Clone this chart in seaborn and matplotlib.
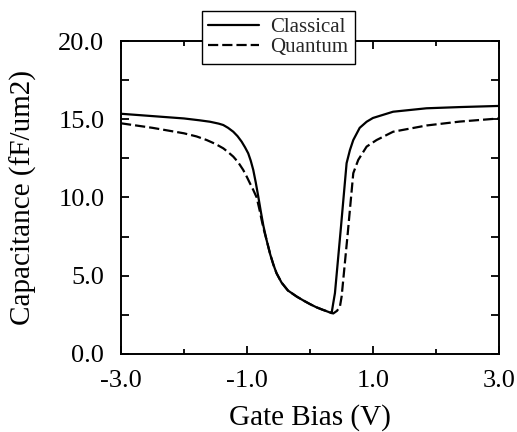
import numpy as np
import pandas as pd
import matplotlib
matplotlib.use("Agg")
import matplotlib.pyplot as plt
import seaborn as sns

# Gate bias sweep (V) and capacitance (fF/um2) for the two models
classical_v = [-3.0, -2.5, -2.0, -1.75, -1.587, -1.45, -1.376, -1.3, -1.217, -1.15,
               -1.085, -1.03, -0.98, -0.94, -0.9, -0.86, -0.82, -0.78, -0.74, -0.69,
               -0.63, -0.58, -0.53, -0.45, -0.35, -0.21, -0.1, 0.0, 0.1, 0.2,
               0.28, 0.344, 0.37, 0.397, 0.49, 0.582, 0.635, 0.688, 0.79, 0.9,
               1.0, 1.32, 1.85, 2.4, 3.0]
classical_c = [15.35, 15.2, 15.05, 14.93, 14.84, 14.72, 14.63, 14.45, 14.2, 13.92,
               13.57, 13.2, 12.82, 12.35, 11.76, 10.95, 10.05, 9.1, 8.2, 7.3,
               6.35, 5.7, 5.15, 4.55, 4.05, 3.66, 3.4, 3.18, 2.98, 2.82,
               2.7, 2.6, 3.24, 3.88, 8.0, 12.19, 13.03, 13.67, 14.45, 14.84,
               15.08, 15.48, 15.7, 15.78, 15.85]

quantum_v = [-3.0, -2.5, -2.0, -1.8, -1.64, -1.5, -1.376, -1.3, -1.217, -1.14,
             -1.06, -1.0, -0.952, -0.9, -0.846, -0.8, -0.767, -0.73, -0.69, -0.63,
             -0.58, -0.53, -0.45, -0.35, -0.21, -0.1, 0.0, 0.1, 0.2, 0.3,
             0.37, 0.43, 0.476, 0.503, 0.6, 0.688, 0.767, 0.9, 1.058, 1.32,
             1.85, 2.38, 3.0]
quantum_c = [14.74, 14.45, 14.1, 13.9, 13.67, 13.42, 13.14, 12.9, 12.61, 12.25,
             11.76, 11.3, 10.9, 10.48, 10.0, 9.2, 8.56, 7.9, 7.3, 6.35,
             5.7, 5.15, 4.55, 4.05, 3.66, 3.4, 3.18, 2.98, 2.82, 2.68,
             2.58, 2.75, 3.02, 3.66, 7.7, 11.55, 12.4, 13.25, 13.67, 14.2,
             14.6, 14.85, 15.05]

x_major = [-3.0, -1.0, 1.0, 3.0]
x_minor = [-2.0, 0.0, 2.0]
y_major = [0.0, 5.0, 10.0, 15.0, 20.0]
y_minor = [2.5, 7.5, 12.5, 17.5]

df = pd.concat([
    pd.DataFrame({"bias": classical_v, "cap": classical_c, "model": "Classical"}),
    pd.DataFrame({"bias": quantum_v, "cap": quantum_c, "model": "Quantum"}),
])

sns.set_theme(style="ticks")
plt.rcParams["font.family"] = ["Liberation Serif", "DejaVu Serif"]

fig = plt.figure(figsize=(5.17, 4.32), dpi=100)
ax = fig.add_axes([0.234, 0.181, 0.731, 0.724])

sns.lineplot(data=df, x="bias", y="cap", style="model",
             dashes={"Classical": "", "Quantum": (4.6, 1.8)},
             color="black", linewidth=1.6, sort=False, estimator=None,
             ax=ax, legend=True)
for ln in ax.get_lines():
    ln.set_solid_joinstyle("round")
    ln.set_dash_joinstyle("round")

ax.set_xlim(-3.0, 3.0)
ax.set_ylim(0.0, 20.0)
ax.set_xticks(x_major)
ax.set_xticks(x_minor, minor=True)
ax.set_yticks(y_major)
ax.set_yticks(y_minor, minor=True)
ax.set_xticklabels([f"{v:.1f}" for v in x_major])
ax.set_yticklabels([f"{v:.1f}" for v in y_major])

ax.tick_params(axis="both", which="both", direction="in", width=1.3,
               top=True, right=True, color="black")
ax.tick_params(axis="both", which="major", length=6)
ax.tick_params(axis="y", which="minor", length=6)
ax.tick_params(axis="x", which="minor", length=3.5)
ax.tick_params(axis="both", which="major", labelsize=19, pad=12, labelcolor="black")

for side in ("left", "right", "top", "bottom"):
    ax.spines[side].set_visible(True)
    ax.spines[side].set_linewidth(1.4)
    ax.spines[side].set_color("black")

ax.set_xlabel("Gate Bias (V)", fontsize=21, labelpad=8, color="black")
ax.set_ylabel("Capacitance (fF/um2)", fontsize=21, labelpad=15, color="black")

leg = ax.legend(loc="upper left", bbox_to_anchor=(0.2135, 1.096),
                fontsize=15, handlelength=2.45, handletextpad=0.55,
                labelspacing=0.05, borderpad=0.3, borderaxespad=0,
                frameon=True, fancybox=False, framealpha=1, edgecolor="black")
leg.get_frame().set_linewidth(1.0)
leg.set_zorder(10)
for h in leg.get_lines():
    h.set_linewidth(1.6)
    h.set_color("black")

fig.savefig("out.png", dpi=100, facecolor="white")
